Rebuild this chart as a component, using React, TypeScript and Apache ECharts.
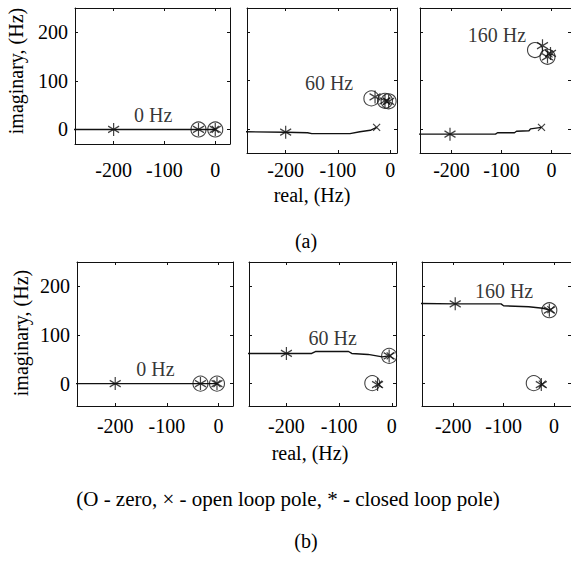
import React, { useEffect, useRef } from 'react';
import * as echarts from 'echarts';

// ---------- data ----------
const xTicks = [-200, -100, 0];
const yTicks = [0, 100, 200];
const freqLabels = ['0 Hz', '60 Hz', '160 Hz'];
const yTitle = 'imaginary, (Hz)';
const xTitle = 'real, (Hz)';
const legendText = '(O - zero, \u00D7 - open loop pole, * - closed loop pole)';
const captions = ['(a)', '(b)'];

// row (a)
const a0Locus = [[-280, 0], [-200, 0], [-33, 0], [0, 0]];
const a0Zeros = [[-33, 0], [0, 0]];
const a0Closed = [[-200, 0], [-33, 0], [0, 0]];
const a0Open = [[0, 0]];
const a0LabelAt = [-122, 29];

const a60Locus = [[-280, -6], [-200, -7], [-158, -8], [-150, -10], [-77, -10], [-58, -6], [-38, -3], [-26, 3]];
const a60Zeros = [[-36, 63], [-10, 58], [-3, 57]];
const a60Closed = [[-200, -7], [-29, 66], [-10, 58], [-3, 57]];
const a60Open = [[-26, 3], [-7, 57]];
const a60LabelAt = [-117, 95];

const a160Locus = [[-280, -11], [-203, -11], [-112, -11], [-108, -8], [-74, -8], [-70, -5], [-45, -4], [-42, 0], [-20, 3]];
const a160Zeros = [[-33, 163], [-8, 149]];
const a160Closed = [[-203, -11], [-18, 172], [-8, 149], [-2, 156]];
const a160Open = [[-20, 3], [-5, 155]];
const a160LabelAt = [-109, 194];

// row (b)
const b0Locus = [[-280, 0], [-200, 0], [-35, 0], [-3, 0]];
const b0Zeros = [[-35, 0], [-3, 0]];
const b0Closed = [[-200, 0], [-35, 0], [-3, 0]];
const b0Open = [[-3, 0]];
const b0LabelAt = [-122, 31];

const b60Locus = [[-280, 62], [-200, 62], [-152, 62], [-145, 66], [-82, 66], [-76, 62], [-45, 60], [-18, 55], [-6, 57]];
const b60Zeros = [[-37, 1], [-5, 57]];
const b60Closed = [[-200, 62], [-27, -2], [-5, 57]];
const b60Open = [[-25, -1], [-3, 57]];
const b60LabelAt = [-112, 94];

const b160Locus = [[-280, 165], [-196, 164], [-105, 164], [-100, 160], [-50, 158], [-22, 155], [-8, 151]];
const b160Zeros = [[-40, 1], [-9, 151]];
const b160Closed = [[-196, 164], [-25, -2], [-9, 151]];
const b160Open = [[-23, -1], [-6, 152]];
const b160LabelAt = [-99, 190];

const panelsData = [
  { locus: a0Locus, zeros: a0Zeros, closed: a0Closed, open: a0Open, at: a0LabelAt, text: freqLabels[0] },
  { locus: a60Locus, zeros: a60Zeros, closed: a60Closed, open: a60Open, at: a60LabelAt, text: freqLabels[1] },
  { locus: a160Locus, zeros: a160Zeros, closed: a160Closed, open: a160Open, at: a160LabelAt, text: freqLabels[2] },
  { locus: b0Locus, zeros: b0Zeros, closed: b0Closed, open: b0Open, at: b0LabelAt, text: freqLabels[0] },
  { locus: b60Locus, zeros: b60Zeros, closed: b60Closed, open: b60Open, at: b60LabelAt, text: freqLabels[1] },
  { locus: b160Locus, zeros: b160Zeros, closed: b160Closed, open: b160Open, at: b160LabelAt, text: freqLabels[2] },
];

// ---------- layout ----------
const frames = [
  { left: 75, top: 8, width: 155, height: 136, xMin: -276, xMax: 29, yMin: -30, yMax: 250, lm: 16, col: 0 },
  { left: 247, top: 8, width: 150, height: 145, xMin: -274, xMax: 13, yMin: -50, yMax: 250, lm: 7, col: 1 },
  { left: 420, top: 8, width: 160, height: 145, xMin: -263, xMax: 39, yMin: -50, yMax: 250, lm: 7, col: 2 },
  { left: 77, top: 262, width: 156, height: 144, xMin: -274, xMax: 28, yMin: -46, yMax: 250, lm: 10, col: 0 },
  { left: 249, top: 262, width: 147, height: 144, xMin: -271, xMax: 8, yMin: -46, yMax: 250, lm: 10, col: 1 },
  { left: 422, top: 262, width: 160, height: 144, xMin: -262, xMax: 34, yMin: -46, yMax: 250, lm: 10, col: 2 },
];

const FONT = '"Liberation Serif", "Times New Roman", serif';
const INK = '#111';
const ASTERISK = 'path://M5 0L5 10M0.67 2.5L9.33 7.5M0.67 7.5L9.33 2.5';
const CROSS = 'path://M0 0L10 10M10 0L0 10';

function buildOption() {
  const grid: any[] = [];
  const xAxis: any[] = [];
  const yAxis: any[] = [];
  const series: any[] = [];

  frames.forEach((f, i) => {
    grid.push({ left: f.left, top: f.top, width: f.width, height: f.height, containLabel: false });
    const line = { show: true, onZero: false, lineStyle: { color: INK, width: 1 } };
    const base = { type: 'value', gridIndex: i, splitLine: { show: false } };
    xAxis.push({
      ...base, position: 'bottom', min: f.xMin, max: f.xMax, axisLine: line,
      axisTick: { show: true, inside: true, length: 3, customValues: xTicks, lineStyle: { color: INK } },
      axisLabel: { show: true, customValues: xTicks, margin: f.lm, fontFamily: FONT, fontSize: 20, color: '#000' },
    });
    xAxis.push({
      ...base, position: 'top', min: f.xMin, max: f.xMax, axisLine: line,
      axisTick: { show: true, inside: true, length: 3, customValues: xTicks, lineStyle: { color: INK } },
      axisLabel: { show: false },
    });
    yAxis.push({
      ...base, position: 'left', min: f.yMin, max: f.yMax, axisLine: line,
      axisTick: { show: true, inside: true, length: 3, customValues: yTicks, lineStyle: { color: INK } },
      axisLabel: { show: f.col === 0, customValues: yTicks, margin: 7, fontFamily: FONT, fontSize: 20, color: '#000' },
    });
    yAxis.push({
      ...base, position: 'right', min: f.yMin, max: f.yMax, axisLine: line,
      axisTick: { show: true, inside: true, length: 3, customValues: yTicks, lineStyle: { color: INK } },
      axisLabel: { show: false },
    });

    const p = panelsData[i];
    const ax = { xAxisIndex: 2 * i, yAxisIndex: 2 * i, silent: true };
    series.push({
      ...ax, type: 'line', data: p.locus, symbol: 'none', clip: true,
      lineStyle: { color: INK, width: 1.4 },
    });
    series.push({
      ...ax, type: 'scatter', data: p.zeros, symbol: 'circle', symbolSize: 15,
      itemStyle: { color: 'transparent', borderColor: INK, borderWidth: 1.1 },
    });
    series.push({
      ...ax, type: 'scatter', data: p.open, symbol: CROSS, symbolSize: 7,
      itemStyle: { color: 'transparent', borderColor: INK, borderWidth: 1.2 },
    });
    series.push({
      ...ax, type: 'scatter', data: p.closed, symbol: ASTERISK, symbolSize: [11, 13],
      itemStyle: { color: 'transparent', borderColor: INK, borderWidth: 1.3 },
    });
    series.push({
      ...ax, type: 'scatter', data: [p.at], symbolSize: 1,
      itemStyle: { color: 'transparent' },
      label: { show: true, position: 'inside', formatter: p.text, fontFamily: FONT, fontSize: 20, color: '#000' },
    });
  });

  const txt = (text: string, x: number, y: number, size: number, rot = 0) => ({
    type: 'text', x, y, rotation: rot,
    style: {
      text, font: `${size}px ${FONT}`, fill: '#000',
      align: 'center', verticalAlign: 'middle', textAlign: 'center', textVerticalAlign: 'middle',
    },
  });

  const graphic = [
    txt(yTitle, 16, 71, 20, Math.PI / 2),
    txt(yTitle, 21, 333, 20, Math.PI / 2),
    txt(xTitle, 312, 195, 20),
    txt(captions[0], 306, 241, 20),
    txt(xTitle, 310, 453, 20),
    txt(legendText, 288, 499, 21),
    txt(captions[1], 306, 541, 20),
  ];

  return { animation: false, backgroundColor: '#fff', grid, xAxis, yAxis, series, graphic };
}

export default function App() {
  const ref = useRef<HTMLDivElement>(null);
  useEffect(() => {
    if (!ref.current) return;
    const chart = echarts.init(ref.current, undefined, { renderer: 'svg' });
    chart.setOption(buildOption() as any);
    return () => chart.dispose();
  }, []);
  return (
    <div
      ref={ref}
      style={{ position: 'fixed', left: 0, top: 0, width: 571, height: 568, background: '#fff' }}
    />
  );
}
